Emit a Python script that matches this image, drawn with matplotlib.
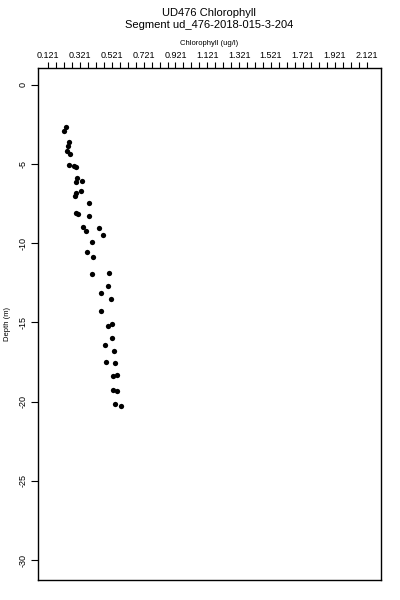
import numpy as np
import matplotlib
matplotlib.use("Agg")
import matplotlib.pyplot as plt

chlorophyll = [0.234, 0.223, 0.253, 0.245, 0.242, 0.261, 0.253, 0.286, 0.297, 0.301,
               0.336, 0.299, 0.326, 0.299, 0.292, 0.377, 0.295, 0.308, 0.377, 0.341,
               0.439, 0.362, 0.468, 0.395, 0.368, 0.406, 0.397, 0.504, 0.496, 0.452,
               0.515, 0.452, 0.525, 0.496, 0.523, 0.481, 0.537, 0.487, 0.544, 0.531,
               0.556, 0.527, 0.554, 0.544, 0.578]
depth = [-2.63, -2.89, -3.62, -3.83, -4.17, -4.36, -5.07, -5.10, -5.18, -5.87,
         -6.05, -6.13, -6.72, -6.84, -6.99, -7.44, -8.10, -8.17, -8.29, -8.99,
         -9.01, -9.20, -9.49, -9.94, -10.53, -10.88, -11.96, -11.86, -12.68, -13.16,
         -13.54, -14.26, -15.08, -15.24, -16.00, -16.42, -16.78, -17.48, -17.54, -18.36,
         -18.32, -19.25, -19.35, -20.15, -20.28]

x_minor_ticks = [round(0.121 + 0.05 * i, 3) for i in range(41)]
x_label_ticks = [0.121, 0.321, 0.521, 0.721, 0.921, 1.121, 1.321, 1.521, 1.721, 1.921, 2.121]
y_ticks = [0, -5, -10, -15, -20, -25, -30]

plt.rcParams['font.family'] = ['Liberation Sans', 'DejaVu Sans']

fig = plt.figure(figsize=(4, 6), dpi=100)
ax = fig.add_axes([0.095, 0.0333, 0.857, 0.8534])

ax.plot(chlorophyll, depth, linestyle='none', marker='o', markersize=3.8,
        color='black', markeredgewidth=0)

ax.set_xlim(0.058, 2.210)
ax.set_ylim(-31.26, 1.07)

ax.xaxis.tick_top()
ax.set_xticks(x_minor_ticks)
ax.set_xticklabels([f"{v:.3f}" if any(abs(v - t) < 1e-6 for t in x_label_ticks) else ""
                    for v in x_minor_ticks])
ax.tick_params(axis='x', direction='out', length=4, width=0.8, labelsize=6.5, pad=2)

ax.set_yticks(y_ticks)
ax.set_yticklabels([str(v) for v in y_ticks], rotation=90, va='center')
ax.tick_params(axis='y', direction='out', length=5, width=0.8, labelsize=6.5, pad=2.5)

for s in ax.spines.values():
    s.set_linewidth(1.0)

ax.set_xlabel("Chlorophyll (ug/l)", fontsize=5.5, labelpad=4)
ax.xaxis.set_label_position('top')
ax.set_ylabel("Depth (m)", fontsize=5.5)
ax.yaxis.set_label_coords(-0.08, 0.5)

fig.text(0.5235, 1 - 12.5 / 600, "UD476 Chlorophyll", ha='center', va='center', fontsize=8)
fig.text(0.5235, 1 - 25 / 600, "Segment ud_476-2018-015-3-204", ha='center', va='center', fontsize=8)

fig.savefig("out.png", dpi=100)
